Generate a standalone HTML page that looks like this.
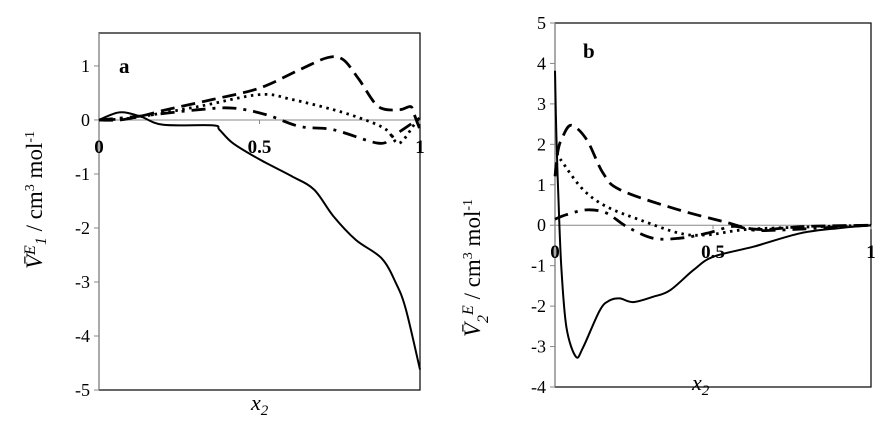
<!DOCTYPE html>
<html><head><meta charset="utf-8"><style>
body{margin:0;background:#fff;}
svg{display:block;}
svg text, svg tspan{font-family:"Liberation Serif","Times New Roman","DejaVu Serif","Noto Serif CJK SC",serif !important;}
</style></head><body>
<svg id="chart" width="887" height="430" viewBox="0 0 887 430"></svg>
<script>
// Panel a data
const aSolidX=[0,0.064,0.127,0.2,0.355,0.375,0.417,0.5,0.6,0.67,0.73,0.8,0.88,0.925,0.956,1.0];
const aSolidY=[0,0.14,0.07,-0.09,-0.1,-0.18,-0.43,-0.73,-1.04,-1.29,-1.78,-2.22,-2.56,-3.02,-3.51,-4.62];
const aDashX=[0,0.064,0.13,0.21,0.355,0.5,0.625,0.71,0.76,0.81,0.87,0.935,0.97,0.98,1.0];
const aDashY=[0,0,0.07,0.19,0.38,0.59,0.93,1.15,1.12,0.75,0.25,0.19,0.25,0.13,-0.18];
const aDotX=[0,0.106,0.31,0.5,0.6,0.73,0.83,0.895,0.935,0.985,1.0];
const aDotY=[0,0.04,0.25,0.47,0.38,0.19,0.0,-0.18,-0.43,-0.06,0.04];
const aDDX=[0,0.127,0.31,0.417,0.52,0.625,0.73,0.87,0.915,1.0];
const aDDY=[0,0.07,0.19,0.22,0.1,-0.12,-0.18,-0.43,-0.3,0.04];
const aYTicks=[1,0,-1,-2,-3,-4,-5];
// Panel b data
const bSolidX=[0,0.004,0.011,0.02,0.036,0.066,0.089,0.142,0.173,0.205,0.247,0.31,0.364,0.438,0.5,0.628,0.776,0.9,1];
const bSolidY=[3.82,2.29,0.63,-1.03,-2.52,-3.25,-3.02,-2.1,-1.86,-1.81,-1.9,-1.77,-1.61,-1.11,-0.78,-0.53,-0.2,-0.07,0];
const bDashX=[0,0.01,0.025,0.052,0.1,0.152,0.205,0.374,0.533,0.64,0.797,1];
const bDashY=[1.21,1.87,2.2,2.47,2.12,1.29,0.88,0.42,0.09,-0.1,-0.03,0];
const bDotX=[0.006,0.025,0.089,0.163,0.27,0.395,0.48,0.586,0.69,1];
const bDotY=[1.79,1.54,0.88,0.46,0.13,-0.2,-0.24,-0.12,-0.07,0];
const bDDX=[0,0.036,0.1,0.163,0.226,0.31,0.395,0.48,0.564,0.628,0.712,1];
const bDDY=[0.15,0.26,0.38,0.3,-0.03,-0.32,-0.32,-0.2,-0.03,-0.12,-0.12,0];
const bYTicks=[5,4,3,2,1,0,-1,-2,-3,-4];
const xTicks=["0","0.5","1"];

const svg=document.getElementById('chart');
const NS='http://www.w3.org/2000/svg';
function mk(tag,attrs,parent){const e=document.createElementNS(NS,tag);for(const k in attrs)e.setAttribute(k,attrs[k]);(parent||svg).appendChild(e);return e;}
function smooth(pts){let d='M'+pts[0][0]+','+pts[0][1];for(let i=0;i<pts.length-1;i++){const p0=pts[Math.max(0,i-1)],p1=pts[i],p2=pts[i+1],p3=pts[Math.min(pts.length-1,i+2)];const c1=[p1[0]+(p2[0]-p0[0])/6,p1[1]+(p2[1]-p0[1])/6],c2=[p2[0]-(p3[0]-p1[0])/6,p2[1]-(p3[1]-p1[1])/6];d+=' C'+c1[0].toFixed(1)+','+c1[1].toFixed(1)+' '+c2[0].toFixed(1)+','+c2[1].toFixed(1)+' '+p2[0].toFixed(1)+','+p2[1].toFixed(1);}return d;}
function panel(cfg){
  const g=mk('g',{});
  
  
  const sx=v=>cfg.x0+v*(cfg.x1-cfg.x0);
  const sy=v=>cfg.yBot-(v-cfg.ymin)*(cfg.yBot-cfg.yTop)/(cfg.ymax-cfg.ymin);
  const box=mk('rect',{x:cfg.x0,y:cfg.yTop,width:cfg.x1-cfg.x0,height:cfg.yBot-cfg.yTop,fill:'none',stroke:'#000','stroke-width':1.2},g);
  
  
  const ax=mk('line',{x1:cfg.x0,x2:cfg.x1,y1:sy(0),y2:sy(0),stroke:'#888','stroke-width':1},g);
  
  
  const yax=mk('line',{x1:cfg.x0,x2:cfg.x0,y1:cfg.yTop,y2:cfg.yBot,stroke:'#888','stroke-width':1},g);
  
  
  cfg.yticks.forEach(t=>{
    mk('line',{x1:cfg.x0-5,x2:cfg.x0,y1:sy(t),y2:sy(t),stroke:'#888'},g);
    const tx=mk('text',{x:cfg.x0-9,y:sy(t)+6,'text-anchor':'end','font-size':18},g);
    tx.textContent=t;
    
    
  });
  xTicks.forEach(t=>{
    const v=parseFloat(t);
    mk('line',{x1:sx(v),x2:sx(v),y1:sy(0),y2:sy(0)+4,stroke:'#888'},g);
    const tx=mk('text',{x:sx(v),y:sy(0)+33,'text-anchor':'middle','font-size':19,'font-weight':'bold'},g);
    tx.textContent=t;
    
    
  });
  const styles={solid:'',dash:'14,7',dot:'2.5,4.5',dd:'14,7,3,7'};
  cfg.series.forEach(s=>{
    const pts=s.x.map((v,i)=>[sx(v),sy(s.y[i])]);
    const p=mk('path',{d:smooth(pts),fill:'none',stroke:'#000','stroke-width':s.k==='solid'?2:2.8,'stroke-dasharray':styles[s.k]},g);
    
    
  });
  const lb=mk('text',{x:cfg.lx,y:cfg.ly,'font-size':21,'font-weight':'bold'},g);
  lb.textContent=cfg.label;
  
  
  return g;
}
panel({name:'panel-a',x0:99,x1:420,yTop:33,yBot:390,ymin:-5,ymax:1.61,yticks:aYTicks,lx:119,ly:73,label:'a',
 series:[{x:aSolidX,y:aSolidY,k:'solid',n:'series-solid'},{x:aDashX,y:aDashY,k:'dash',n:'series-dashed'},{x:aDotX,y:aDotY,k:'dot',n:'series-dotted'},{x:aDDX,y:aDDY,k:'dd',n:'series-dash-dot'}]});
panel({name:'panel-b',x0:555,x1:871,yTop:23,yBot:387,ymin:-4,ymax:5,yticks:bYTicks,lx:583,ly:58,label:'b',
 series:[{x:bSolidX,y:bSolidY,k:'solid',n:'series-solid'},{x:bDashX,y:bDashY,k:'dash',n:'series-dashed'},{x:bDotX,y:bDotY,k:'dot',n:'series-dotted'},{x:bDDX,y:bDDY,k:'dd',n:'series-dash-dot'}]});
</script>
<svg style="position:absolute;left:0;top:0" width="887" height="430">
<g fill="#000">
 <text transform="translate(42,200) rotate(-90)" text-anchor="middle" font-size="23"><tspan font-style="italic">V̄</tspan><tspan font-style="italic" font-size="16" dy="-7">E</tspan><tspan font-style="italic" font-size="16" dy="11">1</tspan><tspan dy="-4"> / cm</tspan><tspan font-size="14" dy="-8">3</tspan><tspan dy="8"> mol</tspan><tspan font-size="14" dy="-8">-1</tspan></text>
 <text x="251" y="410" font-size="22" font-style="italic">x<tspan font-size="15" dy="5">2</tspan></text>
 <text transform="translate(480,268) rotate(-90)" text-anchor="middle" font-size="23"><tspan font-style="italic">V̄</tspan><tspan font-style="italic" font-size="16" dy="8">2</tspan><tspan font-style="italic" font-size="16" dy="-15">E</tspan><tspan dy="7"> / cm</tspan><tspan font-size="14" dy="-8">3</tspan><tspan dy="8"> mol</tspan><tspan font-size="14" dy="-8">-1</tspan></text>
 <text x="692" y="390" font-size="22" font-style="italic">x<tspan font-size="15" dy="5">2</tspan></text>
</g></svg>
</body></html>
